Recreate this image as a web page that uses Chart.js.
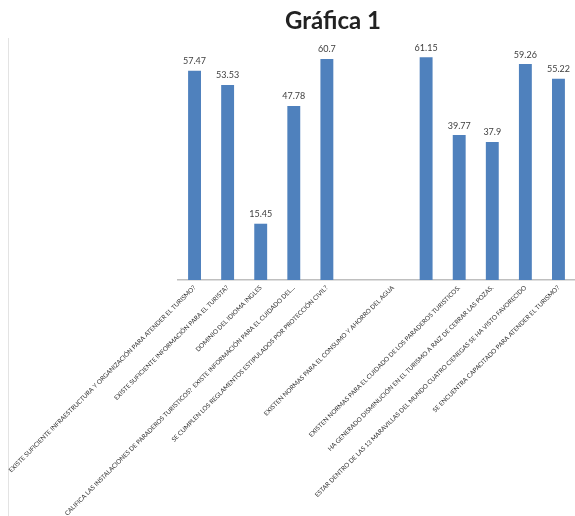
<!doctype html>
<html lang="es">
<head>
<meta charset="utf-8"/>
<title>Gráfica 1</title>
<style>
  html,body{margin:0;padding:0;background:#fff}
  .wrap{position:relative;width:575px;height:516px}
  .frame{position:absolute;left:8px;top:38px;height:478px;border-left:1px solid #e3e3e3}
  canvas{position:absolute;left:0;top:0}
</style>
<script src="https://cdn.jsdelivr.net/npm/chart.js@4.4.0/dist/chart.umd.min.js"></script>
</head>
<body>
<div class="wrap">
  <div class="frame"></div>
  <canvas id="c1" width="575" height="516"></canvas>
</div>
<script>
  // preguntas (eje x) y porcentajes
  const categories = [
    'EXISTE SUFICIENTE INFRAESTRUCTURA Y ORGANIZACIÓN PARA ATENDER EL TURISMO?',
    'EXISTE SUFICIENTE INFORMACIÓN PARA EL TURISTA?',
    'DOMINIO DEL IDIOMA INGLES',
    'CALIFICA LAS INSTALACIONES DE PARADEROS TURISTICOS?  EXISTE INFORMACIÓN PARA EL CUIDADO DEL...',
    'SE CUMPLEN LOS REGLAMENTOS ESTIPULADOS POR PROTECCIÓN CIVIL?',
    '',
    'EXISTEN NORMAS PARA EL CONSUMO Y AHORRO DEL AGUA',
    '',
    'EXISTEN NORMAS PARA EL CUIDADO DE LOS PARADEROS TURISTICOS.',
    'HA GENERADO DISMINUCIÓN EN EL TURISMO A RAIZ DE CERRAR LAS POZAS.',
    'ESTAR DENTRO DE LAS 13 MARAVILLAS DEL MUNDO CUATRO CIENEGAS SE HA VISTO FAVORECIDO',
    'SE ENCUENTRA CAPACITADO PARA ATENDER EL TURISMO?'
  ];
  const values = [57.47, 53.53, 15.45, 47.78, 60.7, null, null, 61.15, 39.77, 37.9, 59.26, 55.22];
  const yMax = 70;

  const titleText = 'Gráfica 1';

  const extras = {
    id:'extras',
    afterDatasetsDraw(chart){
      const ctx = chart.ctx;
      const meta = chart.getDatasetMeta(0);
      ctx.save();
      ctx.fillStyle = '#404040';
      ctx.font = '9px Lato, "Open Sans", sans-serif';
      ctx.textAlign = 'center';
      ctx.textBaseline = 'bottom';
      meta.data.forEach((bar, i) => {
        if (values[i] == null) return;
        ctx.fillText(String(values[i]), bar.x, bar.y - 5);
      });
      // titulo
      ctx.fillStyle = '#222';
      ctx.font = 'bold 24px Lato, "Open Sans", sans-serif';
      ctx.textBaseline = 'middle';
      ctx.fillText(titleText, 333, 21);
      ctx.restore();
    }
  };

  new Chart(document.getElementById('c1'), {
    type:'bar',
    data:{ labels:categories, datasets:[{ data:values, backgroundColor:'#4F81BD',
      barPercentage:0.39, categoryPercentage:1 }]},
    options:{
      responsive:false, animation:false,
      layout:{ padding:{ top:25, right:0, left:0, bottom:0 } },
      plugins:{ legend:{display:false}, tooltip:{enabled:false}, title:{display:false} },
      scales:{
        y:{ display:false, min:0, max:yMax },
        x:{
          grid:{ display:false, drawTicks:false },
          border:{ display:true, color:'#bfbfbf', width:1.5 },
          ticks:{ autoSkip:false, maxRotation:45, minRotation:45, padding:4,
            color:'#333', font:{ size:6.3, family:'Lato, "Open Sans", sans-serif' } },
          afterFit(scale){ scale.height = 236; scale.paddingLeft = 178; scale.paddingRight = 0; }
        }
      }
    },
    plugins:[extras]
  });
</script>
</body></html>
